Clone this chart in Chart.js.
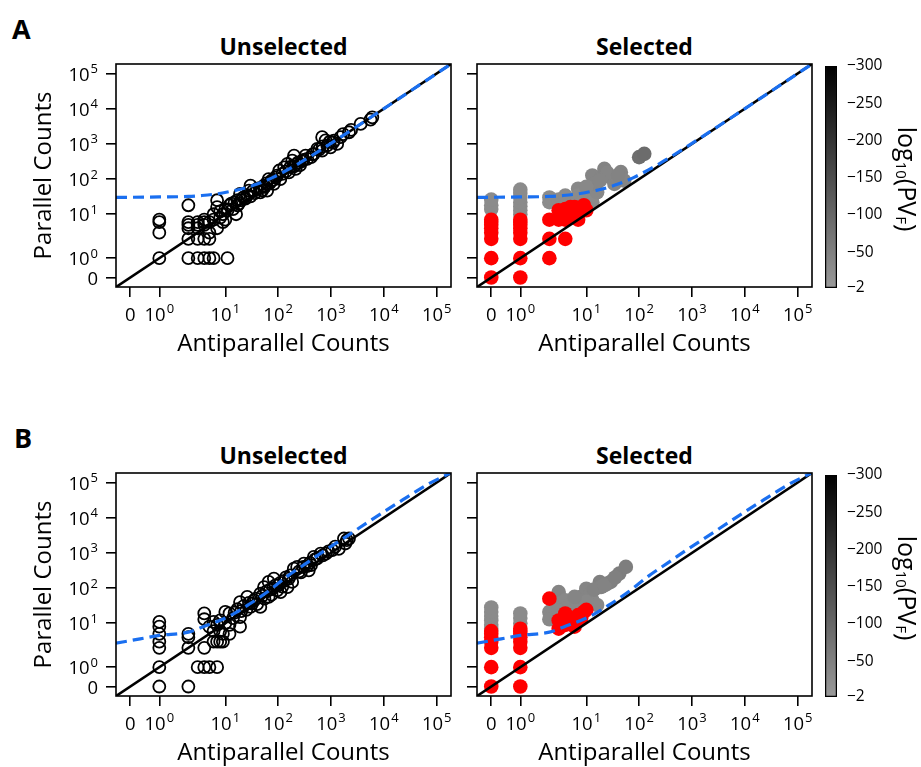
<!DOCTYPE html>
<html>
<head>
<meta charset="utf-8">
<script src="https://cdn.jsdelivr.net/npm/chart.js@4.4.1/dist/chart.umd.min.js"></script>
<style>
  html, body { margin: 0; padding: 0; background: #fff; overflow: hidden; }
  #fig { position: relative; width: 921px; height: 767px; overflow: hidden;
         font-family: "Open Sans", "Noto Sans", "DejaVu Sans", sans-serif; color: #000; }
  #fig canvas { position: absolute; }
  .letter { position: absolute; font-weight: 700; font-size: 27px; line-height: 1; transform: translateY(-50%); }
  .ttl { position: absolute; font-weight: 700; font-size: 23px; line-height: 1; transform: translate(-50%, -50%); white-space: nowrap; }
  .cbt { position: absolute; font-size: 25px; line-height: 1; writing-mode: vertical-rl; transform: translate(-50%, -50%); white-space: nowrap; }
  .cbt sub { font-size: 15px; }
</style>
</head>
<body>
<div id="fig">
  <div class="letter" style="left:12px;top:28px">A</div>
  <div class="ttl" style="left:283.5px;top:46px">Unselected</div>
  <div class="ttl" style="left:644.5px;top:46px">Selected</div>
  <canvas id="aU" width="460" height="370" style="left:0;top:0"></canvas>
  <canvas id="aS" width="361" height="370" style="left:460px;top:0"></canvas>
  <canvas id="aC" width="70" height="370" style="left:820px;top:0"></canvas>
  <div class="cbt" style="left:907px;top:179px">log<sub>10</sub>(PV<sub>F</sub>)</div>

  <div class="letter" style="left:14px;top:437px">B</div>
  <div class="ttl" style="left:283.5px;top:455px">Unselected</div>
  <div class="ttl" style="left:644.5px;top:455px">Selected</div>
  <canvas id="bU" width="460" height="370" style="left:0;top:409px"></canvas>
  <canvas id="bS" width="361" height="370" style="left:460px;top:409px"></canvas>
  <canvas id="bC" width="70" height="370" style="left:820px;top:409px"></canvas>
  <div class="cbt" style="left:907px;top:588px">log<sub>10</sub>(PV<sub>F</sub>)</div>
</div>
<script>
// Parallel vs antiparallel counts, unselected / selected, two experiments (A, B).
// Axes: linear up to 2 counts, log above it (so 0 and 1 get their own slots).
const FONT = '"Open Sans", "Noto Sans", "DejaVu Sans", sans-serif';
const BLUE = "#1a6ff0", RED = "#ff0000";
Chart.defaults.font.family = FONT;
Chart.defaults.color = "#000";

const TICKS = [0, 1, 10, 100, 1000, 10000, 100000];
const AX_MIN = -0.49, AX_MAX = 186600;
const CB_TICKS = [-300, -250, -200, -150, -100, -50, -2];
const CB_LOW = 153; // grey level at -2, black at -300

// ---- data: [antiparallel, parallel] ----
const unselA = [
  [1,1],[1,3],[1,6],[1,7],[2,1],[3,1],[4,1],[5,1],[6,1],[11,1],[2,2],[3,2],[4,2],[5,2],
  [2,18],[2,6],[2,5],[2,4],[3,6],[3,4],[3,5],[4,7],[4,5],[4,6],[5,3],[5,6],[6,7],[6,10],
  [7,4],[7,16],[7,25],[9,6],[10,7],[11,13],[12,18],[16,10],[17,18],[17,25],[22,30],[19,38],
  [40,53],[28,47],[30,65],[46,42],[62,47],[54,65],[83,73],[66,100],[110,100],[95,125],
  [105,175],[160,155],[215,195],[130,215],[150,270],[185,335],[200,465],[355,375],[330,465],
  [475,520],[680,645],[550,720],[980,800],[1310,1000],[1135,1245],[790,1250],[680,1550],
  [1520,1550],[2190,2140],[3640,3700],[6050,5700],[5600,4900],
  [8,8],[8,12],[9,10],[10,14],[13,20],[14,14],[15,22],[18,20],[20,25],[24,28],[26,35],
  [30,32],[33,45],[36,40],[45,55],[50,48],[56,60],[60,75],[70,78],[75,90],[80,95],[90,110],
  [120,140],[140,165],[170,220],[200,230],[220,260],[240,300],[260,250],[280,320],[300,350],
  [420,420],[450,500],[600,700],[700,850],[850,900],[950,1150],[1100,1100],[1700,1900],[2400,2500]
];
// [antiparallel, parallel, log10(PV_F)]
const selAGrey = [
  [0,14,-30],[0,18,-30],[0,26,-30],
  [1,10,-30],[1,13,-30],[1,17,-30],[1,22,-30],[1,30,-30],[1,40,-30],[1,50,-30],
  [2,22,-30],[2,30,-30],[3,26,-30],[4,34,-30],[5,24,-30],[7,53,-35],[7,34,-30],[9,26,-30],
  [12,30,-30],[13,22,-30],[16,42,-35],[13,126,-40],[14,73,-40],[19,113,-40],[22,195,-45],
  [29,113,-40],[34,73,-40],[45,157,-45],[52,90,-40],[10,60,-35],[25,150,-40],[18,90,-40],
  [40,130,-45],[100,420,-85],[125,520,-90]
];
const selARed = [
  [0,0],[0,1],[0,2],[0,3],[0,4],[0,5],[0,6],[0,7],
  [1,0],[1,1],[1,2],[1,3],[1,4],[1,5],[1,6],[1,7],
  [2,1],[2,2],[2,7],[3,7],[4,2],[4,7],[7,7],[3,13],[4,14],[5,16],[6,16],[7,15],[9,18],
  [8,13],[10,13],[5,10]
];
const fitA = [
  [-0.49,30],[1,31],[2,32],[3.5,34],[7,38],[12,44],[20,52],[40,72],[80,112],[150,182],
  [300,332],[700,730],[1500,1530],[5000,5030],[20000,20000],[186600,186600]
];

const unselB = [
  [1,0],[1,1],[1,2],[1,3],[1,5],[1,8],[1,11],[2,0],[2,2],[2,4],[2,5],[3,1],[4,1],[5,1],[7,1],
  [4,2],[4,13],[6,11],[7,3],[9,3],[9,5],[12,19],[12,9],[8,6],[10,21],[19,15],[19,8],[19,40],
  [26,56],[30,29],[35,45],[46,69],[54,107],[66,150],[83,186],[89,120],[96,86],[66,56],[46,29],
  [111,77],[184,149],[198,358],[229,400],[307,497],[474,770],[636,957],[1057,1191],
  [1758,2560],[2190,2560],[1870,1850],[380,320],[159,186],[150,107],[4,19],[6,3],[8,3],[12,5],
  [5,8],[6,6],[7,9],[8,12],[10,10],[14,14],[15,20],[17,25],[20,22],[22,30],[25,24],[28,38],
  [32,36],[38,50],[40,35],[50,60],[55,50],[60,80],[70,90],[75,65],[80,100],[100,120],[110,140],
  [120,110],[130,160],[140,200],[170,230],[250,300],[270,280],[300,400],[350,420],[400,520],
  [420,450],[500,650],[550,700],[700,850],[800,950],[900,1100],[1200,1500],[1400,1300],[2000,2300]
];
const selBGrey = [
  [0,7,-30],[0,9,-30],[0,12,-30],[0,16,-30],[0,21,-30],[0,28,-30],[1,10,-30],[1,14,-30],[1,19,-30],
  [3,77,-40],[2,21,-35],[2,13,-35],[3,36,-35],[4,45,-35],[5,33,-35],[7,45,-35],[8,56,-40],
  [10,96,-40],[12,70,-40],[13,45,-35],[16,33,-35],[10,41,-35],[25,134,-50],[18,148,-50],
  [29,150,-50],[42,258,-55],[56,400,-55],[19,107,-45],[4,26,-35],[6,23,-35],[3,23,-35],
  [6,56,-40],[14,90,-45],[22,120,-45],[35,200,-50]
];
const selBRed = [
  [0,0],[0,1],[0,2],[0,3],[0,4],[0,5],[0,6],[1,0],[1,1],[1,2],[1,3],[1,4],[1,5],[1,6],[1,7],
  [2,50],[3,12],[3,7],[4,9],[5,13],[6,11],[7,17],[9,21],[4,19],[8,14],[10,24],[6,8]
];
const fitB = [
  [-0.49,2.7],[0.34,3.6],[1,4.5],[2,5.6],[4.5,8.7],[11,15],[26,32],[62,77],[148,215],
  [355,530],[850,1300],[2000,3000],[4900,7300],[11600,17000],[28000,39000],[67000,88000],
  [186600,190000]
];

// ---- count axis: linear to 2, log10 above ----
const KNEE = 2, LIN = 0.55;
const fwd = (v) => (v <= KNEE ? LIN * v : LIN * KNEE + Math.log10(v / KNEE));
const inv = (u) => (u <= LIN * KNEE ? u / LIN : KNEE * Math.pow(10, u - LIN * KNEE));

class CountScale extends Chart.Scale {
  static id = "counts";
  static defaults = {};
  determineDataLimits() { this.min = this.options.min; this.max = this.options.max; }
  buildTicks() { return TICKS.map((v) => ({ value: v })); }
  getLabelForValue(v) { return String(v); }
  configure() { super.configure(); this._u0 = fwd(this.min); this._u1 = fwd(this.max); }
  getPixelForValue(v) { return this.getPixelForDecimal((fwd(v) - this._u0) / (this._u1 - this._u0)); }
  getValueForPixel(p) { return inv(this._u0 + this.getDecimalForPixel(p) * (this._u1 - this._u0)); }
}
Chart.register(CountScale);

// 10^k labels with a real superscript
const powLabels = {
  id: "powLabels",
  afterDraw(chart, _a, o) {
    const { ctx, chartArea: ca } = chart;
    ctx.save();
    ctx.fillStyle = "#000";
    ctx.textBaseline = "alphabetic";
    ctx.textAlign = "left";
    const put = (v, x, y, align) => {
      const base = v === 0 ? "0" : "10";
      const sup = v === 0 ? "" : String(Math.round(Math.log10(v)));
      ctx.font = `18.5px ${FONT}`;
      const wb = ctx.measureText(base).width;
      ctx.font = `13px ${FONT}`;
      const ws = sup ? ctx.measureText(sup).width + 1 : 0;
      const x0 = align === "center" ? x - (wb + ws) / 2 : x - wb - ws;
      ctx.font = `18.5px ${FONT}`;
      ctx.fillText(base, x0, y);
      if (sup) { ctx.font = `13px ${FONT}`; ctx.fillText(sup, x0 + wb + 1, y - 7.5); }
    };
    if (o.x) { const s = chart.scales.x; s.ticks.forEach((t) => put(t.value, s.getPixelForValue(t.value), ca.bottom + 33.5, "center")); }
    if (o.y) { const s = chart.scales.y; s.ticks.forEach((t) => put(t.value, ca.left - 18, s.getPixelForValue(t.value) + 7, "right")); }
    ctx.restore();
  },
};
const frame = {
  id: "frame",
  afterDatasetsDraw(chart) {
    const { ctx, chartArea: a } = chart;
    ctx.save();
    ctx.strokeStyle = "#000";
    ctx.lineWidth = 1.6;
    ctx.strokeRect(a.left, a.top, a.right - a.left, a.bottom - a.top);
    ctx.restore();
  },
};

const xy = (arr) => arr.map((p) => ({ x: p[0], y: p[1] }));
const greyOf = (pv) => {
  const t = (-pv - 2) / 298;
  const c = Math.round(CB_LOW * (1 - t));
  return `rgb(${c},${c},${c})`;
};
const tickGrid = { drawOnChartArea: false, drawTicks: true, tickLength: 10, color: "#000", lineWidth: 1.6 };
const lineSets = (fit) => [
  { data: xy(fit), showLine: true, pointRadius: 0, borderColor: BLUE, borderWidth: 3.2, borderDash: [11, 6], cubicInterpolationMode: "monotone", order: 0 },
  { data: [{ x: AX_MIN, y: AX_MIN }, { x: AX_MAX, y: AX_MAX }], showLine: true, pointRadius: 0, borderColor: "#000", borderWidth: 2.6, order: 1 },
];

function scatterPanel(id, datasets, withYLabels) {
  const W = document.getElementById(id).width;
  return new Chart(document.getElementById(id), {
    type: "scatter",
    data: { datasets },
    options: {
      responsive: false, animation: false, events: [],
      layout: { padding: { top: 64, right: W - (withYLabels ? 451 : 352), left: 0, bottom: 0 } },
      plugins: { legend: { display: false }, tooltip: { enabled: false }, powLabels: { x: true, y: withYLabels } },
      scales: {
        x: {
          type: "counts", min: AX_MIN, max: AX_MAX, grid: tickGrid, border: { display: false }, ticks: { display: false },
          title: { display: true, text: "Antiparallel Counts", font: { size: 24 }, color: "#000", padding: { bottom: 11, top: 0 } },
          afterFit: (s) => { s.height = 83; },
        },
        y: {
          type: "counts", min: AX_MIN, max: AX_MAX, grid: tickGrid, border: { display: false }, ticks: { display: false },
          title: { display: withYLabels, text: "Parallel Counts", font: { size: 24 }, color: "#000", padding: { top: 30, bottom: 0 } },
          afterFit: (s) => { s.width = withYLabels ? 116 : 17; },
        },
      },
    },
    plugins: [powLabels, frame],
  });
}

function unselected(id, pts, fit) {
  scatterPanel(id, [
    ...lineSets(fit),
    { data: xy(pts), pointRadius: 6, pointBorderWidth: 1.8, borderColor: "#000", backgroundColor: "rgba(0,0,0,0)", order: 3 },
  ], true);
}
function selected(id, grey, red, fit) {
  scatterPanel(id, [
    ...lineSets(fit),
    { data: xy(red), pointRadius: 7.3, borderWidth: 0, backgroundColor: RED, order: 2 },
    { data: xy(grey), pointRadius: 7.3, borderWidth: 0, backgroundColor: grey.map((p) => greyOf(p[2])), order: 3 },
  ], false);
}

function colorbar(id) {
  new Chart(document.getElementById(id), {
    type: "bar",
    data: {
      labels: [""],
      datasets: [{
        data: [[CB_TICKS[CB_TICKS.length - 1], CB_TICKS[0]]],
        backgroundColor: (c) => {
          const a = c.chart.chartArea;
          if (!a) return "#999";
          const g = c.chart.ctx.createLinearGradient(0, a.bottom, 0, a.top);
          g.addColorStop(0, `rgb(${CB_LOW},${CB_LOW},${CB_LOW})`);
          g.addColorStop(1, "#000");
          return g;
        },
        borderColor: "#000", borderWidth: 1.6, borderSkipped: false, barPercentage: 1, categoryPercentage: 1,
      }],
    },
    options: {
      responsive: false, animation: false, events: [],
      layout: { padding: { left: 5, top: 66, bottom: 82, right: 0 } },
      plugins: { legend: { display: false }, tooltip: { enabled: false } },
      scales: {
        x: { display: false },
        y: {
          position: "right", min: -300, max: -2, reverse: true,
          grid: { display: false }, border: { display: false },
          afterBuildTicks: (s) => { s.ticks = CB_TICKS.map((v) => ({ value: v })); },
          ticks: { callback: (v) => "\u2212" + Math.abs(v), font: { size: 15.5 }, color: "#000", padding: 2, autoSkip: false },
          afterFit: (s) => { s.width = 53; },
        },
      },
    },
  });
}

unselected("aU", unselA, fitA);
selected("aS", selAGrey, selARed, fitA);
colorbar("aC");
unselected("bU", unselB, fitB);
selected("bS", selBGrey, selBRed, fitB);
colorbar("bC");
</script>
</body>
</html>
